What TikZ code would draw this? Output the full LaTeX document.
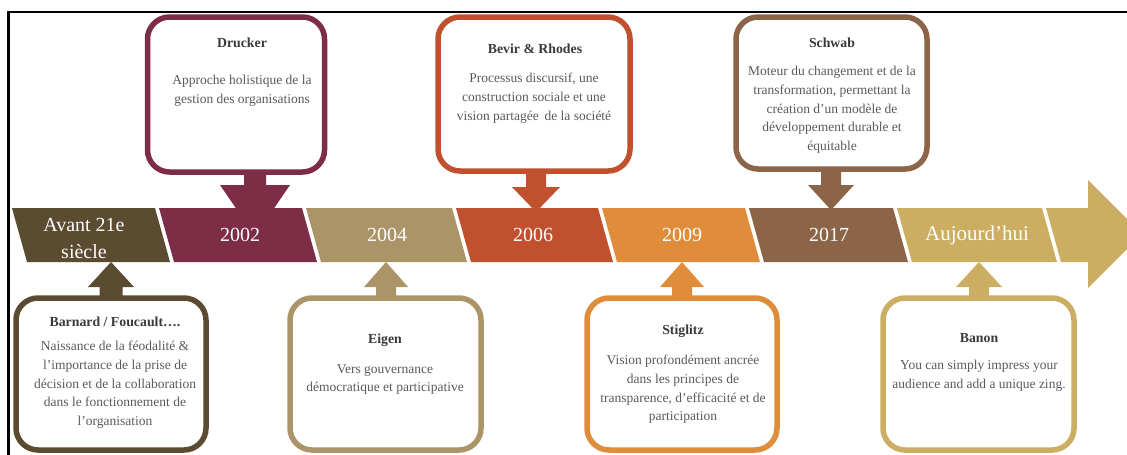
\documentclass[tikz,border=0pt]{standalone}
\usepackage{fontspec}
\setmainfont{Liberation Serif}
\usetikzlibrary{calc}
\pgfdeclarelayer{bg}
\pgfsetlayers{bg,main}
\definecolor{cA}{HTML}{5B4B30}
\definecolor{cB}{HTML}{7D2E46}
\definecolor{cC}{HTML}{AC9469}
\definecolor{cD}{HTML}{C1502E}
\definecolor{cE}{HTML}{DF8C3B}
\definecolor{cF}{HTML}{8C6549}
\definecolor{cG}{HTML}{CBAE61}
\definecolor{ttlgray}{HTML}{3A3A3A}
\definecolor{bdygray}{HTML}{5A5A5A}
\tikzset{
  tbox/.style={draw=#1, line width=5.5pt, rounded corners=22pt, fill=white, inner sep=0pt},
  ttl/.style={font=\bfseries\fontsize{13.8}{16}\selectfont, text=ttlgray, inner sep=0pt},
  bdy/.style={font=\fontsize{13.5}{18.75}\selectfont, text=bdygray, align=center, anchor=north, inner sep=0pt},
  yr/.style={font=\fontsize{20}{27}\selectfont, text=white, align=center, inner sep=0pt},
}
% segment of the band: colour, top-left x, top-right x
\newcommand\bandseg[3]{\fill[#1] (#2,208) -- (#3,208) -- ({#3+15},262) -- ({#2+15},262) -- cycle;}
% block arrow: colour, centre x, start y, head base y, tip y, head half width, shaft half width
\newcommand\blockarrow[7]{\fill[#1] ({#2-#7},#3) -- ({#2-#7},#4) -- ({#2-#6},#4) -- (#2,#5) -- ({#2+#6},#4) -- ({#2+#7},#4) -- ({#2+#7},#3) -- cycle;}
\begin{document}
\begin{tikzpicture}[x=1pt,y=-1pt]
\useasboundingbox (0,0) rectangle (1127,455);
% frame
\draw[line width=2.5pt] (8.7,455) -- (8.7,12.2) -- (1127,12.2);

% boxes
\node[tbox=cB, minimum width=177, minimum height=155] (drucker) at (236,94.5) {};
\node[tbox=cD, minimum width=192, minimum height=154] (bevir) at (534,94) {};
\node[tbox=cF, minimum width=191, minimum height=152] (schwab) at (831.5,93) {};
\node[tbox=cA, minimum width=190, minimum height=152] (barnard) at (111,374) {};
\node[tbox=cC, minimum width=191, minimum height=152] (eigen) at (385.5,374) {};
\node[tbox=cE, minimum width=190, minimum height=152] (stiglitz) at (682,374) {};
\node[tbox=cG, minimum width=191, minimum height=152] (banon) at (978.5,374) {};

\begin{pgfonlayer}{bg}
% connectors
\blockarrow{cB}{255}{170}{185}{236}{35}{11}
\blockarrow{cD}{536}{170}{187}{212}{24}{10}
\blockarrow{cF}{831}{167}{185}{210}{23}{10}
\blockarrow{cA}{111}{299}{287}{262}{23}{11.5}
\blockarrow{cC}{386}{299}{287}{262}{22}{10}
\blockarrow{cE}{682}{299}{287}{262}{22}{10}
\blockarrow{cG}{979}{299}{287}{262}{23}{10}
% band
\bandseg{cA}{12}{155}
\bandseg{cB}{159}{302}
\bandseg{cC}{306}{452}
\bandseg{cD}{456}{598}
\bandseg{cE}{602}{745}
\bandseg{cF}{749}{893}
\bandseg{cG}{897}{1042}
\fill[cG] (1046,208) -- (1088,208) -- (1088,180) -- (1142,234) -- (1088,288) -- (1088,262) -- (1061,262) -- cycle;
\end{pgfonlayer}

% band labels
\node[yr] (s1) at (84,238) {Avant 21e\\siècle};
\node[yr] (s2) at (240,235) {2002};
\node[yr] (s3) at (387,235) {2004};
\node[yr] (s4) at (533,235) {2006};
\node[yr] (s5) at (682,235) {2009};
\node[yr] (s6) at (829,235) {2017};
\node[yr, font=\fontsize{21}{27}\selectfont] (s7) at (977,235) {Aujourd’hui};

% box texts
\node[ttl] (t1) at (242,43) {Drucker};
\node[bdy] (x1) at (242,75) {Approche holistique de la\\gestion des organisations};
\node[ttl] (t2) at (535,49) {Bevir \& Rhodes};
\node[bdy] (x2) at (534,73) {Processus discursif, une\\construction sociale et une\\vision partagée\, de la société};
\node[ttl] (t3) at (832,43) {Schwab};
\node[bdy] (x3) at (832,66) {Moteur du changement et de la\\transformation, permettant la\\création d'un modèle de\\développement durable et\\équitable};
\node[ttl] (t4) at (115,322) {Barnard / Foucault….};
\node[bdy] (x4) at (115,341) {Naissance de la féodalité \&\\l’importance de la prise de\\décision et de la collaboration\\dans le fonctionnement de\\l’organisation};
\node[ttl] (t5) at (385,340) {Eigen};
\node[bdy] (x5) at (385,364) {Vers gouvernance\\démocratique et participative};
\node[ttl] (t6) at (683,331) {Stiglitz};
\node[bdy] (x6) at (683,355) {Vision profondément ancrée\\dans les principes de\\transparence, d'efficacité et de\\participation};
\node[ttl] (t7) at (979,338) {Banon};
\node[bdy] (x7) at (979,360) {You can simply impress your\\audience and add a unique zing.};
\end{tikzpicture}
\end{document}
